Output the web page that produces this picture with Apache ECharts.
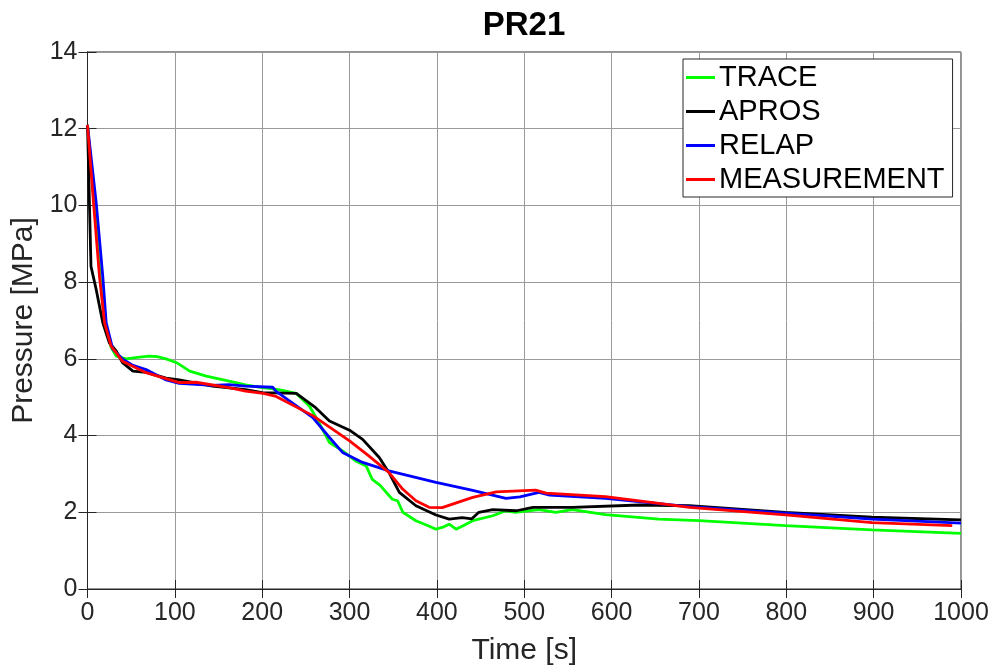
<!DOCTYPE html>
<html>
<head>
<meta charset="utf-8">
<script src="https://cdn.jsdelivr.net/npm/echarts@6/dist/echarts.min.js"></script>
<style>html,body{margin:0;padding:0;background:#fff;}#c{width:996px;height:667px;}</style>
</head>
<body>
<div id="c"></div>
<script>
// ---- data (time [s], pressure [MPa]) ----
var traceData = [[0,12.1],[8,10.0],[15,8.0],[20,6.9],[27,6.3],[33,6.07],[44,6.0],[55,6.03],[70,6.07],[80,6.06],[90,6.0],[102,5.9],[117,5.68],[136,5.55],[162,5.42],[181,5.32],[200,5.25],[219,5.2],[239,5.1],[254,4.77],[265,4.34],[277,3.82],[292,3.6],[307,3.34],[319,3.21],[326,2.86],[335,2.7],[342,2.52],[349,2.34],[355,2.3],[361,2.0],[376,1.78],[390,1.65],[399,1.56],[408,1.62],[414,1.69],[422,1.56],[430,1.65],[441,1.78],[464,1.91],[479,2.04],[490,2.0],[517,2.07],[536,2.0],[555,2.07],[593,1.94],[654,1.82],[700,1.78],[799,1.65],[898,1.54],[1000,1.45]];
var aprosData = [[0,12.1],[4,8.41],[10,7.8],[17.5,6.94],[25,6.42],[33,6.2],[40,5.9],[52,5.68],[67,5.65],[90,5.5],[105,5.45],[143,5.29],[181,5.2],[200,5.12],[239,5.1],[260,4.75],[277,4.38],[300,4.14],[315,3.9],[334,3.43],[345,3.04],[357,2.52],[376,2.17],[399,1.93],[414,1.82],[429,1.86],[440,1.83],[448,2.0],[464,2.07],[491,2.04],[510,2.13],[555,2.13],[632,2.19],[689,2.17],[799,2.0],[898,1.87],[1000,1.8]];
var relapData = [[0,12.1],[10,10.06],[17.5,8.15],[21.4,6.94],[29,6.25],[40,6.0],[52,5.83],[67,5.72],[90,5.45],[105,5.36],[143,5.31],[162,5.33],[181,5.29],[212,5.26],[216,5.15],[258,4.47],[277,3.95],[292,3.56],[315,3.3],[345,3.08],[399,2.78],[441,2.57],[479,2.36],[495,2.4],[517,2.52],[529,2.45],[593,2.36],[689,2.15],[799,1.98],[898,1.82],[1000,1.72]];
var measData = [[0,12.1],[6,10.32],[13.7,8.15],[19.5,6.94],[27,6.33],[40,5.94],[67,5.64],[105,5.38],[124,5.39],[162,5.25],[181,5.16],[201,5.1],[216,5.02],[258,4.52],[300,3.86],[322,3.47],[345,3.04],[361,2.6],[376,2.3],[391,2.13],[406,2.12],[441,2.39],[468,2.53],[513,2.58],[525,2.5],[593,2.41],[654,2.23],[689,2.13],[799,1.93],[898,1.73],[990,1.65]];
var seriesNames = ['TRACE','APROS','RELAP','MEASUREMENT'];
var seriesColors = ['#00ff00','#000000','#0000ff','#ff0000'];
var seriesData = [traceData, aprosData, relapData, measData];
var xTicks = {min:0, max:1000, interval:100};
var yTicks = {min:0, max:14, interval:2};

var FONT = 'Liberation Sans, Arial, Helvetica, sans-serif';
var TXT = '#262626';
var chart = echarts.init(document.getElementById('c'), null, {renderer:'canvas'});

var series = seriesNames.map(function(n,i){
  return {name:n, type:'line', data:seriesData[i], showSymbol:false, symbol:'none',
    lineStyle:{color:seriesColors[i], width:2.8}, itemStyle:{color:seriesColors[i]},
    xAxisIndex:0, yAxisIndex:0, z:2+i, animation:false};
});

chart.setOption({
  animation:false,
  backgroundColor:'#ffffff',
  title:{text:'PR21', left:524, top:9, padding:0, textAlign:'center',
    textStyle:{fontFamily:FONT, fontWeight:'bold', fontSize:33, color:'#000'}},
  grid:{left:87.5, right:35, top:52, bottom:78, containLabel:false, outerBoundsMode:'none',
    show:true, borderColor:'#262626', borderWidth:1, backgroundColor:'#fff'},
  legend:{orient:'vertical', left:683, top:59, padding:[4,8,3,3], itemGap:5,
    itemWidth:29, itemHeight:3, icon:'rect', borderColor:'#262626', borderWidth:1,
    backgroundColor:'#fff', textStyle:{fontFamily:FONT, fontSize:29, color:'#000', padding:[0,0,0,-1]},
    data:seriesNames},
  xAxis:[{type:'value', min:xTicks.min, max:xTicks.max, interval:xTicks.interval,
    name:'Time [s]', nameLocation:'middle', nameGap:47,
    nameTextStyle:{fontFamily:FONT, fontSize:30, color:TXT},
    axisLine:{show:true, lineStyle:{color:'#262626', width:1}},
    axisTick:{show:true, inside:true, length:9, lineStyle:{color:'#262626'}},
    axisLabel:{fontFamily:FONT, fontSize:25, color:TXT, margin:12, formatter:function(v){return String(v);}},
    splitLine:{show:true, lineStyle:{color:'#9a9a9a', width:1}}},
   {type:'value', position:'top', min:xTicks.min, max:xTicks.max, interval:xTicks.interval,
    axisLine:{show:true, lineStyle:{color:'#262626'}},
    axisTick:{show:true, inside:true, length:9, lineStyle:{color:'#262626'}},
    axisLabel:{show:false}, splitLine:{show:false}}],
  yAxis:[{type:'value', min:yTicks.min, max:yTicks.max, interval:yTicks.interval,
    name:'Pressure [MPa]', nameLocation:'middle', nameGap:45, nameRotate:90,
    nameTextStyle:{fontFamily:FONT, fontSize:30, color:TXT},
    axisLine:{show:true, lineStyle:{color:'#262626', width:1}},
    axisTick:{show:true, inside:true, length:9, lineStyle:{color:'#262626'}},
    axisLabel:{fontFamily:FONT, fontSize:25, color:TXT, margin:10, formatter:function(v){return String(v);}},
    splitLine:{show:true, lineStyle:{color:'#9a9a9a', width:1}}},
   {type:'value', position:'right', min:yTicks.min, max:yTicks.max, interval:yTicks.interval,
    axisLine:{show:true, lineStyle:{color:'#262626'}},
    axisTick:{show:true, inside:true, length:9, lineStyle:{color:'#262626'}},
    axisLabel:{show:false}, splitLine:{show:false}}],
  series:series
});
</script>
</body>
</html>
